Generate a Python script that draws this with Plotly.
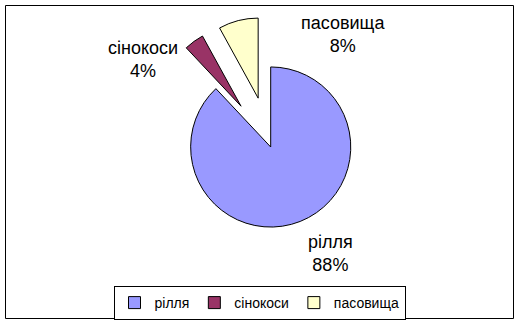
import plotly.graph_objects as go

categories = ["рілля", "сінокоси", "пасовища"]
values = [88, 4, 8]
colors = ["#9999FF", "#993366", "#FFFFCC"]
pulls = [0, 0.63, 0.63]

W, H = 524, 323

fig = go.Figure(go.Pie(
    labels=categories,
    values=values,
    marker=dict(colors=colors, line=dict(color="#000000", width=1)),
    pull=pulls,
    sort=False,
    direction="clockwise",
    rotation=0,
    textinfo="none",
    hoverinfo="skip",
    domain=dict(x=[(270.7 - 140) / W, (270.7 + 140) / W],
                y=[1 - 277.5 / H, 1 - 16.5 / H]),
))

label_pos = {  # pixel centres of the data labels
    "рілля": (330, 253),
    "сінокоси": (142.5, 59),
    "пасовища": (343, 34.5),
}
total = sum(values)
for name, v in zip(categories, values):
    px, py = label_pos[name]
    fig.add_annotation(
        x=px / W, y=1 - py / H, xref="paper", yref="paper",
        text=f"{name}<br>{round(100 * v / total)}%",
        showarrow=False, xanchor="center", yanchor="middle",
        font=dict(size=18, color="#000000", family="Liberation Sans, Arial, sans-serif"),
    )

fig.add_shape(type="rect", xref="paper", yref="paper",
              x0=5.5 / W, x1=513.5 / W, y0=1 - 318.5 / H, y1=1 - 5.5 / H,
              line=dict(color="#000000", width=1), fillcolor="rgba(0,0,0,0)")

fig.update_layout(
    width=W, height=H,
    margin=dict(l=0, r=0, t=0, b=0),
    paper_bgcolor="#FFFFFF",
    plot_bgcolor="#FFFFFF",
    font=dict(family="Liberation Sans, Arial, sans-serif", color="#000000"),
    showlegend=True,
    legend=dict(
        orientation="h",
        x=259.5 / W, xanchor="center",
        y=1 - 286 / H, yanchor="top",
        bgcolor="#FFFFFF", bordercolor="#000000", borderwidth=1,
        font=dict(size=14, color="#000000"),
        itemwidth=30,
        tracegroupgap=0,
    ),
)

fig.write_html("out.html")
